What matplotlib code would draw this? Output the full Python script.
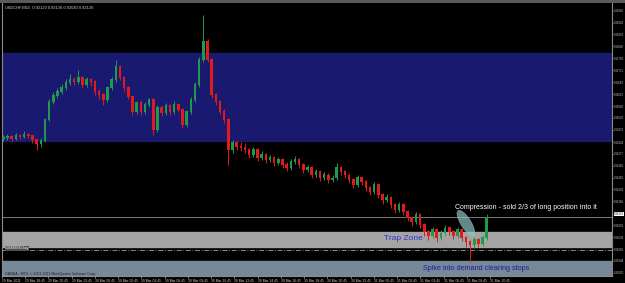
import numpy as np
import matplotlib.pyplot as plt
from matplotlib.patches import Ellipse, Rectangle
from matplotlib.transforms import IdentityTransform

# USDCHF M15 candles, prices in points (0.00001)
opens_pts = [92436, 92440, 92444, 92436, 92448, 92444, 92452, 92448, 92432, 92416,
             92428, 92512, 92584, 92608, 92624, 92640, 92660, 92672, 92664, 92680,
             92652, 92672, 92664, 92624, 92612, 92592, 92640, 92672, 92724, 92680,
             92640, 92604, 92544, 92580, 92544, 92572, 92592, 92472, 92560, 92540,
             92568, 92544, 92572, 92552, 92492, 92544, 92592, 92652, 92752, 92824,
             92752, 92612, 92584, 92544, 92512, 92392, 92420, 92404, 92400, 92392,
             92372, 92392, 92360, 92372, 92352, 92360, 92340, 92352, 92332, 92320,
             92344, 92352, 92332, 92312, 92320, 92292, 92304, 92280, 92292, 92272,
             92280, 92320, 92304, 92292, 92272, 92252, 92280, 92264, 92240, 92224,
             92252, 92212, 92192, 92200, 92172, 92152, 92172, 92144, 92120, 92104,
             92132, 92092, 92064, 92048, 92072, 92040, 92060, 92080, 92064, 92048,
             92072, 92040, 92024, 92012, 92032, 92016, 92040]
closes_pts = [92440, 92444, 92436, 92448, 92444, 92452, 92448, 92432, 92416, 92428,
              92512, 92584, 92608, 92624, 92640, 92660, 92672, 92664, 92680, 92652,
              92672, 92664, 92624, 92612, 92592, 92640, 92672, 92724, 92680, 92640,
              92604, 92544, 92580, 92544, 92572, 92592, 92472, 92560, 92540, 92568,
              92544, 92572, 92552, 92492, 92544, 92592, 92652, 92752, 92824, 92752,
              92612, 92584, 92544, 92512, 92392, 92420, 92404, 92400, 92392, 92372,
              92392, 92360, 92372, 92352, 92360, 92340, 92352, 92332, 92320, 92344,
              92352, 92332, 92312, 92320, 92292, 92304, 92280, 92292, 92272, 92280,
              92320, 92304, 92292, 92272, 92252, 92280, 92264, 92240, 92224, 92252,
              92212, 92192, 92200, 92172, 92152, 92172, 92144, 92120, 92104, 92132,
              92092, 92064, 92048, 92072, 92040, 92060, 92080, 92064, 92048, 92072,
              92040, 92024, 92012, 92032, 92016, 92040, 92120]
highs_pts = [92452, 92456, 92450, 92460, 92458, 92468, 92460, 92452, 92436, 92440,
             92520, 92596, 92624, 92640, 92656, 92676, 92696, 92684, 92712, 92688,
             92684, 92680, 92672, 92636, 92620, 92648, 92684, 92752, 92732, 92688,
             92648, 92612, 92588, 92592, 92584, 92600, 92600, 92572, 92568, 92580,
             92576, 92588, 92580, 92560, 92552, 92604, 92664, 92764, 92932, 92836,
             92760, 92620, 92592, 92556, 92520, 92432, 92428, 92424, 92420, 92400,
             92404, 92400, 92388, 92380, 92372, 92368, 92364, 92360, 92344, 92356,
             92368, 92360, 92340, 92332, 92328, 92316, 92312, 92304, 92300, 92292,
             92340, 92328, 92312, 92300, 92280, 92292, 92288, 92272, 92248, 92264,
             92260, 92220, 92216, 92208, 92180, 92184, 92180, 92152, 92128, 92144,
             92140, 92100, 92072, 92084, 92080, 92072, 92092, 92088, 92072, 92084,
             92080, 92048, 92032, 92044, 92040, 92052, 92136]
lows_pts = [92428, 92432, 92428, 92432, 92436, 92440, 92440, 92420, 92392, 92404,
            92424, 92508, 92576, 92600, 92616, 92632, 92652, 92652, 92656, 92640,
            92644, 92648, 92612, 92596, 92572, 92584, 92632, 92664, 92672, 92628,
            92596, 92532, 92536, 92532, 92536, 92564, 92452, 92464, 92528, 92532,
            92532, 92536, 92544, 92480, 92484, 92536, 92584, 92644, 92744, 92744,
            92600, 92572, 92536, 92500, 92332, 92380, 92392, 92388, 92380, 92360,
            92364, 92348, 92352, 92340, 92344, 92328, 92332, 92320, 92308, 92312,
            92336, 92320, 92300, 92304, 92280, 92284, 92268, 92272, 92260, 92264,
            92272, 92292, 92280, 92260, 92240, 92244, 92252, 92228, 92212, 92216,
            92200, 92176, 92184, 92160, 92140, 92144, 92132, 92108, 92088, 92096,
            92080, 92048, 92032, 92040, 92024, 92032, 92052, 92052, 92036, 92040,
            92028, 92004, 91944, 92000, 92004, 92008, 92032]

time_labels = ["29 Mar 2011", "29 Mar 18:45", "29 Mar 20:45", "29 Mar 22:45", "30 Mar 00:45",
               "30 Mar 02:45", "30 Mar 04:45", "30 Mar 06:45", "30 Mar 08:45", "30 Mar 10:45",
               "30 Mar 12:45", "30 Mar 14:45", "30 Mar 16:45", "30 Mar 18:45", "30 Mar 20:45",
               "30 Mar 22:45", "31 Mar 00:45", "31 Mar 02:45", "31 Mar 04:45", "31 Mar 06:45",
               "31 Mar 08:45", "31 Mar 10:45"]
price_ticks = [0.92949, 0.92901, 0.92854, 0.92806, 0.92758, 0.92711, 0.92663, 0.92615, 0.92568,
               0.92520, 0.92472, 0.92424, 0.92377, 0.92329, 0.92281, 0.92234, 0.92186, 0.92138,
               0.92091, 0.92043, 0.91995, 0.91948, 0.91900]

supply_zone = (0.92428, 0.92780)
trap_zone = (0.92004, 0.92064)
demand_zone = (0.91888, 0.91946)
order_price = 0.91992
bid_price = 0.92124

o = np.array(opens_pts) / 1e5
c = np.array(closes_pts) / 1e5
h = np.array(highs_pts) / 1e5
l = np.array(lows_pts) / 1e5

fig = plt.figure(figsize=(6.25, 2.83), dpi=100, facecolor='black')
ax = fig.add_axes([2 / 625, 7 / 283, 610 / 625, 273 / 283])
ax.set_facecolor('black')
ax.set_xlim(-0.24, 146.06)
ax.set_ylim(0.91888, 0.92980)

ax.axhspan(*supply_zone, color='#191970', zorder=0)
ax.axhspan(*trap_zone, color='#a4a4a4', zorder=0)
ax.axhspan(*demand_zone, color='#778899', zorder=0)
ax.axhline(bid_price, color='#8c8c8c', lw=0.6, zorder=1)
ax.axhline(order_price, color='#a0a0a0', lw=0.6, ls=(0, (6, 2, 1, 2)), zorder=1)

x = np.arange(len(c))
col = np.where(c >= o, '#1f9a4c', '#e01b1b')
ax.vlines(x, l, h, colors=col, lw=0.7, zorder=2)
ax.bar(x, np.abs(c - o) + 0.00002, bottom=np.minimum(o, c), width=0.62, color=col, zorder=3)

# axes
ax.yaxis.tick_right()
ax.set_yticks(price_ticks)
ax.set_yticklabels([f"{p:.5f}" for p in price_ticks])
ax.tick_params(axis='y', colors='#c8c8c8', labelsize=2.0, length=1.0, width=0.5, pad=0.4)
for lab in ax.get_yticklabels():
    lab.set_family('Liberation Sans')
ax.get_yticklabels()[17].set_bbox(dict(fc='white', ec='none', pad=0.2))
ax.get_yticklabels()[17].set_color('black')
tpos = [-0.31 + 5.576 * k for k in range(len(time_labels))]
ax.set_xticks(tpos)
ax.set_xticklabels(time_labels, ha='left')
ax.tick_params(axis='x', colors='#c8c8c8', labelsize=2.4, length=1.5, width=0.5, pad=0.8)
for lab in ax.get_xticklabels():
    lab.set_family('Liberation Sans')
for s in ax.spines.values():
    s.set_color('#8c8c8c')
    s.set_linewidth(0.8)
ax.spines['top'].set_visible(False)

fig.add_artist(Rectangle((0, 280 / 283), 1, 3 / 283, transform=fig.transFigure,
                         fc='#5a5a5a', ec='none'))

ax.text(0.005, 0.99, "USDCHF,M15  0.92120 0.92136 0.92040 0.92120", transform=ax.transAxes,
        color='#d0d0d0', fontsize=2.9, va='top', ha='left', family='Liberation Sans')
ax.text(0.5, order_price + 0.00007, "#36488093 buy", color='white', fontsize=2.4,
        va='center', ha='left', family='Liberation Sans',
        bbox=dict(fc='#505050', ec='none', pad=0.2))
ax.text(0.5, 0.91897, "OANDA - MT4, \u00a9 2001-2011 MetaQuotes Software Corp.", color='#202020',
        fontsize=2.6, va='center', ha='left', family='Liberation Sans')

ax.text(108.4, 0.92162, "Compression - sold 2/3 of long position into it", color='white',
        fontsize=5.0, family='Liberation Sans', va='center', ha='left')
ax.text(91.3, 0.92036, "Trap Zone", color='#3030d8', fontsize=6.0, family='Liberation Sans',
        va='center', ha='left')
ax.text(100.8, 0.91918, "Spike into demand clearing stops", color='#1c1ca0', fontsize=5.2,
        family='Liberation Sans', va='center', ha='left')

fig.canvas.draw()
cx, cy = ax.transData.transform((111.0, 0.92100))
ax.add_patch(Ellipse((cx, cy), 30, 11, angle=-58, transform=IdentityTransform(),
                     fc='#8ec4c4', ec='none', alpha=0.7, zorder=4))

fig.savefig('out.png', dpi=100, facecolor='black')
